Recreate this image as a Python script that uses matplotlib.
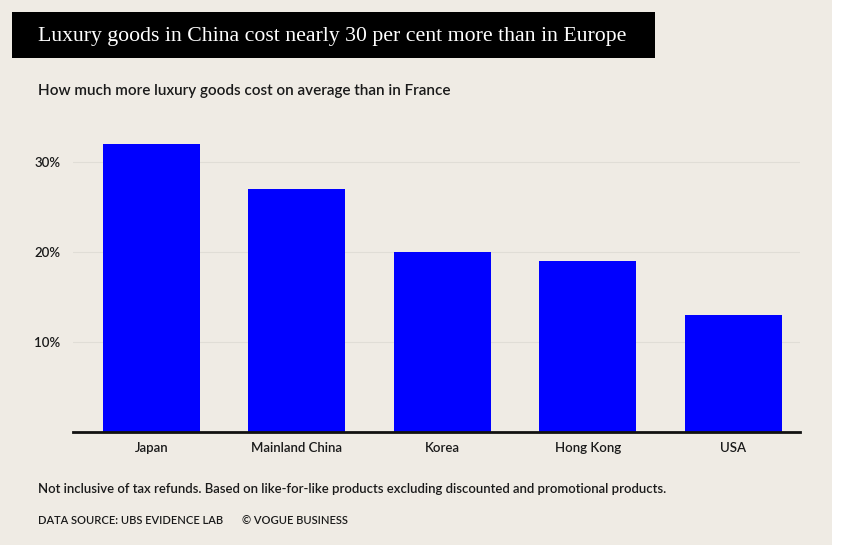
import matplotlib.pyplot as plt
from matplotlib.patches import Rectangle

# data
countries = ["Japan", "Mainland China", "Korea", "Hong Kong", "USA"]
premium = [32, 27, 20, 19, 13]
yticks = [10, 20, 30]
ytick_labels = ["10%", "20%", "30%"]

W, H = 867, 548
bg = "#efebe4"

fig = plt.figure(figsize=(W / 100, H / 100), dpi=100, facecolor="white")

# beige panel, white strip on the right
fig.patches.append(Rectangle((0, 3 / H), 832 / W, 1 - 3 / H, transform=fig.transFigure,
                             facecolor=bg, edgecolor="none", zorder=-10))
# black title box
fig.patches.append(Rectangle((12 / W, 1 - 58 / H), (655 - 12) / W, 46 / H,
                             transform=fig.transFigure, facecolor="black",
                             edgecolor="none", zorder=-5))
fig.text(38 / W, 1 - 36 / H, "Luxury goods in China cost nearly 30 per cent more than in Europe",
         color="white", fontsize=15.7, family="Liberation Serif", va="center", ha="left")

fig.text(38 / W, 1 - 91 / H, "How much more luxury goods cost on average than in France",
         fontsize=11, family="Lato", weight="semibold", color="#1a1a1a", va="center")

ax = fig.add_axes([73 / W, 1 - 432 / H, (800 - 73) / W, (432 - 130) / H])
ax.set_facecolor("none")
ax.bar(range(len(countries)), premium, width=0.667, color="#0000ff", zorder=3)
ax.set_xlim(-0.54, 4.46)
ax.set_ylim(0, 33.56)
ax.set_yticks(yticks)
ax.set_yticklabels(ytick_labels)
ax.set_xticks(range(len(countries)))
ax.set_xticklabels(countries)
ax.grid(axis="y", color="#e0ddd6", linewidth=0.8, zorder=0)
for s in ["top", "right", "left"]:
    ax.spines[s].set_visible(False)
ax.spines["bottom"].set_linewidth(2)
ax.spines["bottom"].set_color("#111111")
ax.spines["bottom"].set_zorder(4)
ax.tick_params(axis="both", length=0, labelsize=9.5, colors="#1a1a1a")
ax.tick_params(axis="y", pad=9)
ax.tick_params(axis="x", pad=7)
for lab in ax.get_xticklabels() + ax.get_yticklabels():
    lab.set_family("Lato")
    lab.set_weight("semibold")

fig.text(38 / W, 1 - 489 / H,
         "Not inclusive of tax refunds. Based on like-for-like products excluding discounted and promotional products.",
         fontsize=9.45, family="Lato", weight="semibold", color="#1a1a1a", va="center")
fig.text(38 / W, 1 - 520 / H, "DATA SOURCE: UBS EVIDENCE LAB", fontsize=8,
         family="Lato", weight="semibold", color="#1a1a1a", va="center")
fig.text(242 / W, 1 - 520 / H, "\u00a9 VOGUE BUSINESS", fontsize=8,
         family="Lato", weight="semibold", color="#1a1a1a", va="center")

fig.savefig("out.png", dpi=100, facecolor=fig.get_facecolor())
